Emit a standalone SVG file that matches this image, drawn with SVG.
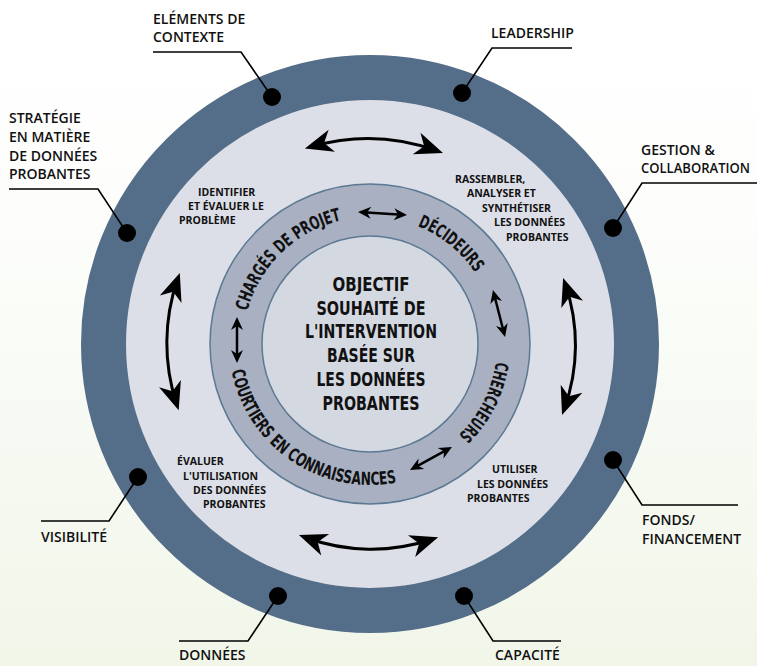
<svg xmlns="http://www.w3.org/2000/svg" width="757" height="666" viewBox="0 0 757 666">
  <defs>
    <linearGradient id="bg" x1="0" y1="0" x2="0" y2="1">
      <stop offset="0" stop-color="#ffffff"/>
      <stop offset="0.3" stop-color="#fdfefc"/>
      <stop offset="1" stop-color="#f1f6e9"/>
    </linearGradient>
    <marker id="bigHead" markerUnits="userSpaceOnUse" markerWidth="40" markerHeight="40" viewBox="-30 -20 40 40" refX="-7" refY="0" orient="auto-start-reverse" overflow="visible">
      <path d="M0,0 L-28,-11.5 L-20,0 L-28,11.5 Z" fill="#000"/>
    </marker>
    <marker id="smallHead" markerUnits="userSpaceOnUse" markerWidth="20" markerHeight="20" viewBox="-15 -10 20 20" refX="-5" refY="0" orient="auto-start-reverse" overflow="visible">
      <path d="M0,0 L-13,-6 L-9,0 L-13,6 Z" fill="#000"/>
    </marker>
    <path id="pCharges" d="M247.3,311.1 A127,127 0 0 1 342.5,220.0"/>
    <path id="pDecideurs" d="M417.6,226.2 A127,127 0 0 1 475.3,273.0"/>
    <path id="pChercheurs" d="M495.8,361.7 A127,127 0 0 1 458.2,435.4"/>
    <path id="pCourtiers" d="M231.6,370.9 A141,141 0 0 0 396.9,482.4"/>
  </defs>
  <style>
    .lbl { font-family: "Open Sans", "Liberation Sans", sans-serif; font-weight: 600; font-size: 14px; fill: #111; }
    .sub { font-family: "Open Sans", "Liberation Sans", sans-serif; font-weight: 700; font-size: 10.5px; fill: #111; }
    .ring { font-family: "DejaVu Sans Condensed", "Liberation Sans", sans-serif; font-weight: 700; font-size: 18px; fill: #111; }
    .core { font-family: "DejaVu Sans Condensed", "Liberation Sans", sans-serif; font-weight: 700; font-size: 19px; fill: #111; text-anchor: middle; }
    .leader { fill: none; stroke: #000; stroke-width: 1.6; }
    .dot { fill: #000; }
    .bigArrow { fill: none; stroke: #000; stroke-width: 3; marker-start: url(#bigHead); marker-end: url(#bigHead); }
    .smallArrow { fill: none; stroke: #000; stroke-width: 2.5; marker-start: url(#smallHead); marker-end: url(#smallHead); }
  </style>

  <rect x="0" y="0" width="757" height="666" fill="url(#bg)"/>

  <g id="rings">
    <circle cx="370" cy="344" r="266.5" fill="#dcdfe7" stroke="#546e89" stroke-width="45"/>
    <circle cx="370" cy="344" r="160" fill="#a8b0c1" stroke="#5c7993" stroke-width="1.5"/>
    <circle cx="370" cy="344" r="108" fill="#d4d8e1" stroke="#5c7993" stroke-width="1.5"/>
  </g>

  <g id="core">
    <text class="core" x="371" y="291" textLength="77" lengthAdjust="spacingAndGlyphs">OBJECTIF</text>
    <text class="core" x="371" y="315" textLength="109" lengthAdjust="spacingAndGlyphs">SOUHAITÉ DE</text>
    <text class="core" x="371" y="338" textLength="132" lengthAdjust="spacingAndGlyphs">L'INTERVENTION</text>
    <text class="core" x="371" y="362" textLength="88" lengthAdjust="spacingAndGlyphs">BASÉE SUR</text>
    <text class="core" x="371" y="386" textLength="109" lengthAdjust="spacingAndGlyphs">LES DONNÉES</text>
    <text class="core" x="371" y="410" textLength="97" lengthAdjust="spacingAndGlyphs">PROBANTES</text>
  </g>

  <g id="node-charges">
    <text class="ring"><textPath href="#pCharges" textLength="137" lengthAdjust="spacingAndGlyphs">CHARGÉS DE PROJET</textPath></text>
  </g>
  <g id="node-decideurs">
    <text class="ring"><textPath href="#pDecideurs" textLength="75" lengthAdjust="spacingAndGlyphs">DÉCIDEURS</textPath></text>
  </g>
  <g id="node-chercheurs">
    <text class="ring"><textPath href="#pChercheurs" textLength="84" lengthAdjust="spacingAndGlyphs">CHERCHEURS</textPath></text>
  </g>
  <g id="node-courtiers">
    <text class="ring"><textPath href="#pCourtiers" textLength="221" lengthAdjust="spacingAndGlyphs">COURTIERS EN CONNAISSANCES</textPath></text>
  </g>

  <g id="step-identifier">
    <text class="sub" x="198" y="196">IDENTIFIER</text>
    <text class="sub" x="188" y="210">ET ÉVALUER LE</text>
    <text class="sub" x="179" y="224">PROBLÈME</text>
  </g>
  <g id="step-rassembler">
    <text class="sub" x="455" y="183">RASSEMBLER,</text>
    <text class="sub" x="467" y="197">ANALYSER ET</text>
    <text class="sub" x="482" y="212">SYNTHÉTISER</text>
    <text class="sub" x="494" y="226">LES DONNÉES</text>
    <text class="sub" x="506" y="241">PROBANTES</text>
  </g>
  <g id="step-evaluer">
    <text class="sub" x="177" y="465">ÉVALUER</text>
    <text class="sub" x="183" y="480">L'UTILISATION</text>
    <text class="sub" x="193" y="494">DES DONNÉES</text>
    <text class="sub" x="203" y="508">PROBANTES</text>
  </g>
  <g id="step-utiliser">
    <text class="sub" x="492" y="473">UTILISER</text>
    <text class="sub" x="477" y="488">LES DONNÉES</text>
    <text class="sub" x="467" y="502">PROBANTES</text>
  </g>

  <g id="connectors">
    <path class="bigArrow" d="M311.6,146.6 A204,204 0 0 1 436.4,150.6"/>
    <path class="bigArrow" d="M305.5,537.5 A192,192 0 0 0 431.5,539.5"/>
    <path class="bigArrow" d="M177.5,279.5 A194,194 0 0 0 176.5,403.5"/>
    <path class="bigArrow" d="M565.4,284.5 A187,187 0 0 1 564.4,408.5"/>
    <path class="smallArrow" d="M363,212.3 L402,214.7"/>
    <path class="smallArrow" d="M494.2,294.8 L503.8,332.2"/>
    <path class="smallArrow" d="M237,322 L237,358"/>
    <path class="smallArrow" d="M414.4,467.6 L447.6,449.4"/>
    <path class="leader" d="M153,52 L241,52 L272,97"/>
    <path class="leader" d="M572,48 L492,48 L462,93"/>
    <path class="leader" d="M9,189 L98,189 L127,233"/>
    <path class="leader" d="M757,183 L642,183 L613,228"/>
    <path class="leader" d="M41,521 L109,521 L138,477"/>
    <path class="leader" d="M738,505 L642,505 L613,460"/>
    <path class="leader" d="M179,641 L248,641 L278,596"/>
    <path class="leader" d="M561,641 L493,641 L464,596"/>
  </g>

  <g id="factor-elements">
    <circle class="dot" cx="272" cy="97" r="9"/>
    <text class="lbl" x="153" y="24">ELÉMENTS DE</text>
    <text class="lbl" x="153" y="42">CONTEXTE</text>
  </g>
  <g id="factor-leadership">
    <circle class="dot" cx="462" cy="93" r="9"/>
    <text class="lbl" x="491" y="38">LEADERSHIP</text>
  </g>
  <g id="factor-strategie">
    <circle class="dot" cx="127" cy="233" r="9"/>
    <text class="lbl" x="9" y="123">STRATÉGIE</text>
    <text class="lbl" x="9" y="142">EN MATIÈRE</text>
    <text class="lbl" x="9" y="161">DE DONNÉES</text>
    <text class="lbl" x="9" y="179">PROBANTES</text>
  </g>
  <g id="factor-gestion">
    <circle class="dot" cx="613" cy="228" r="9"/>
    <text class="lbl" x="641" y="155">GESTION &amp;</text>
    <text class="lbl" x="641" y="173" textLength="109" lengthAdjust="spacingAndGlyphs">COLLABORATION</text>
  </g>
  <g id="factor-visibilite">
    <circle class="dot" cx="138" cy="477" r="9"/>
    <text class="lbl" x="41" y="542">VISIBILITÉ</text>
  </g>
  <g id="factor-fonds">
    <circle class="dot" cx="613" cy="460" r="9"/>
    <text class="lbl" x="642" y="525">FONDS/</text>
    <text class="lbl" x="642" y="544">FINANCEMENT</text>
  </g>
  <g id="factor-donnees">
    <circle class="dot" cx="278" cy="596" r="9"/>
    <text class="lbl" x="179" y="660">DONNÉES</text>
  </g>
  <g id="factor-capacite">
    <circle class="dot" cx="464" cy="596" r="9"/>
    <text class="lbl" x="495" y="660">CAPACITÉ</text>
  </g>
</svg>
